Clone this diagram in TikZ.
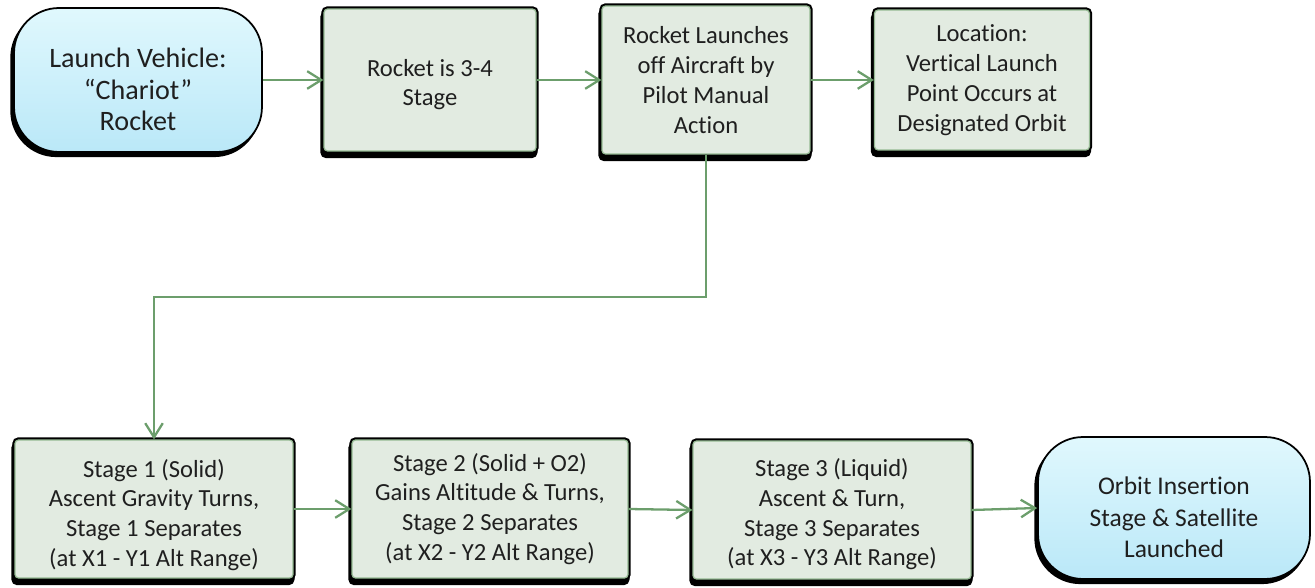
\documentclass[tikz,border=0pt]{standalone}
\usepackage{fontspec}
\setmainfont{Carlito}[Ligatures={NoCommon, NoContextual}]
\usetikzlibrary{arrows.meta, shadows}

\definecolor{boxfill}{RGB}{226,235,225}
\definecolor{boxline}{RGB}{150,186,148}
\definecolor{linkgreen}{RGB}{108,158,108}
\definecolor{pilltop}{RGB}{224,248,253}
\definecolor{pillbot}{RGB}{186,232,248}

% pushes the text block of a node down a little
\newcommand{\lowerby}[1]{\rule{0pt}{#1}}

\begin{document}
\begin{tikzpicture}[x=0.02cm, y=-0.02cm,
    stagebox/.style={draw=boxline, line width=0.7pt, fill=boxfill,
        rounded corners=2pt, align=center, inner sep=0pt,
        font=\fontsize{14}{17}\selectfont, text=black!88,
        general shadow={fill=black, draw=black, line width=3pt,
            shadow xshift=-0.6pt, shadow yshift=-2.6pt},
        preaction={draw=black, line width=3pt}},
    endpill/.style={draw=black, line width=1pt, rounded corners=0.9cm,
        top color=pilltop, bottom color=pillbot, align=center,
        inner sep=0pt, text=black!88,
        general shadow={fill=black, draw=black, line width=1pt,
            shadow xshift=-1.6pt, shadow yshift=-2.4pt}},
    link/.style={draw=linkgreen, line width=1.3pt,
        -{Straight Barb[length=8pt, width=10pt]}},
    bentlink/.style={draw=linkgreen, line width=0.9pt,
        -{Straight Barb[length=8pt, width=10pt, line width=1.3pt]}}]

    \useasboundingbox (0,0) rectangle (1315,588);

    % top row
    \node[endpill, font=\fontsize{16}{18}\selectfont, minimum width=4.96cm,
          minimum height=2.88cm] (vehicle) at (138,80)
        {\lowerby{22pt}Launch Vehicle:\\“Chariot”\\Rocket};
    \node[stagebox, minimum width=4.24cm, minimum height=2.84cm] (stages) at (430,80)
        {\lowerby{15pt}Rocket is 3-4\\Stage};
    \node[stagebox, minimum width=4.16cm, minimum height=2.96cm] (release) at (706,80)
        {Rocket Launches\\off Aircraft by\\Pilot Manual\\Action};
    \node[stagebox, minimum width=4.3cm, minimum height=2.8cm] (location) at (982,80)
        {Location:\\Vertical Launch\\Point Occurs at\\Designated Orbit};

    % bottom row
    \node[stagebox, minimum width=5.56cm, minimum height=2.76cm] (stage1) at (154,509)
        {\lowerby{17pt}Stage 1 (Solid)\\Ascent Gravity Turns,\\Stage 1 Separates\\(at X1 - Y1 Alt Range)};
    \node[stagebox, minimum width=5.52cm, minimum height=2.76cm] (stage2) at (490,509)
        {Stage 2 (Solid + O2)\\Gains Altitude \& Turns,\\Stage 2 Separates\\(at X2 - Y2 Alt Range)};
    \node[stagebox, minimum width=5.56cm, minimum height=2.76cm] (stage3) at (832,510)
        {\lowerby{15pt}Stage 3 (Liquid)\\Ascent \& Turn,\\Stage 3 Separates\\(at X3 - Y3 Alt Range)};
    \node[endpill, font=\fontsize{14.5}{18}\selectfont, minimum width=5.44cm,
          minimum height=2.84cm] (orbit) at (1174,508)
        {\lowerby{21pt}Orbit Insertion\\Stage \& Satellite\\Launched};

    \coordinate (bend) at (0,297);

    \draw[link] (vehicle.east) -- (stages.west);
    \draw[link] (stages.east) -- (release.west);
    \draw[link] (release.east) -- (location.west);
    \draw[bentlink] (release.south) -- (release.south |- bend) -| (stage1.north);
    \draw[link] (stage1.east) -- (stage2.west);
    \draw[link] (stage2.east) -- (stage3.west);
    \draw[link] (stage3.east) -- (orbit.west);

\end{tikzpicture}
\end{document}
